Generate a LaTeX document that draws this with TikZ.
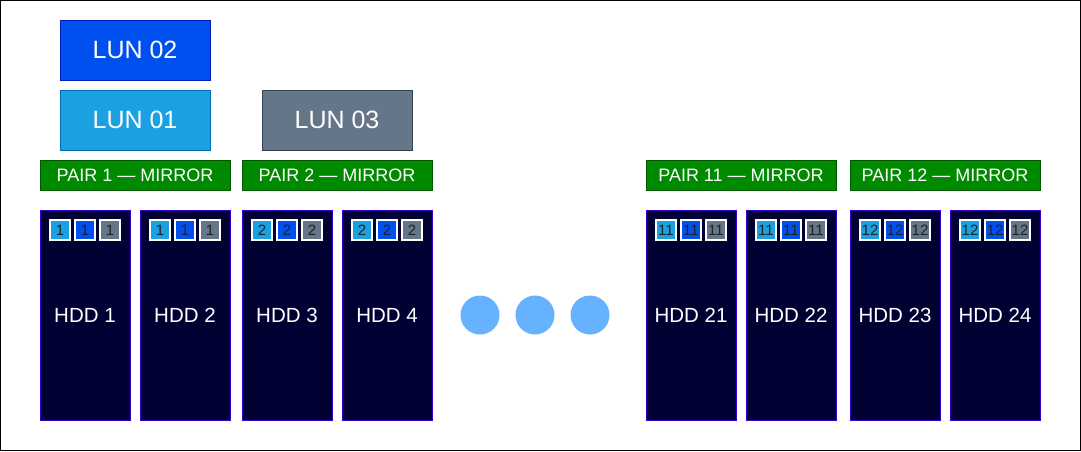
\documentclass[tikz,border=0pt]{standalone}
\usepackage{fontspec}
\setmainfont{Liberation Sans}
\definecolor{lunA}{HTML}{1BA1E2}
\definecolor{lunAb}{HTML}{006EAF}
\definecolor{lunB}{HTML}{0050EF}
\definecolor{lunBb}{HTML}{001DBC}
\definecolor{lunC}{HTML}{647687}
\definecolor{lunCb}{HTML}{314354}
\definecolor{pairg}{HTML}{008A00}
\definecolor{pairgb}{HTML}{005700}
\definecolor{hddfill}{HTML}{000033}
\definecolor{hddb}{HTML}{3700CC}
\definecolor{dotc}{HTML}{66B2FF}
\definecolor{sqtext}{HTML}{222222}
\tikzset{
  lunbox/.style={draw, line width=1pt, inner sep=0pt, minimum width=150pt, minimum height=60pt, text=white, font=\fontsize{25}{25}\selectfont},
  pairbox/.style={draw=pairgb, fill=pairg, line width=1pt, inner sep=0pt, minimum width=190pt, minimum height=30pt, text=white, font=\fontsize{18}{18}\selectfont},
  hddbox/.style={draw=hddb, fill=hddfill, line width=1pt, inner sep=0pt, minimum width=90pt, minimum height=210pt, text=white, font=\fontsize{20.5}{20.5}\selectfont},
  sqbox/.style={draw=white, line width=1.2pt, inner sep=0pt, minimum width=20pt, minimum height=20pt, text=sqtext, font=\fontsize{15}{15}\selectfont},
  dotnode/.style={circle, fill=dotc, inner sep=0pt, minimum size=39pt},
}
\begin{document}
\begin{tikzpicture}[x=1pt, y=-1pt]
\useasboundingbox (0,0) rectangle (1081,451);
\draw[line width=1pt] (0.5,0.5) rectangle (1080.5,450.5);
% LUNs
\node[lunbox, fill=lunB, draw=lunBb] (lun2) at (135,50) {LUN 02};
\node[lunbox, fill=lunA, draw=lunAb] (lun1) at (135,120) {LUN 01};
\node[lunbox, fill=lunC, draw=lunCb] (lun3) at (337,120) {LUN 03};
% Pairs
\node[pairbox] (pair1) at (135,175) {PAIR 1 — MIRROR};
\node[pairbox] (pair2) at (337,175) {PAIR 2 — MIRROR};
\node[pairbox] (pair11) at (741,175) {PAIR 11 — MIRROR};
\node[pairbox] (pair12) at (945,175) {PAIR 12 — MIRROR};
% HDDs
\foreach \x/\n/\p in {40/1/1, 140/2/1, 242/3/2, 342/4/2, 646/21/11, 746/22/11, 850/23/12, 950/24/12}{
  \node[hddbox] (hdd\n) at (\x+45,315) {HDD \n};
  \node[sqbox, fill=lunA] (sa\n) at (\x+20,230) {\p};
  \node[sqbox, fill=lunB] (sb\n) at (\x+45,230) {\p};
  \node[sqbox, fill=lunC] (sc\n) at (\x+70,230) {\p};
}
% dots
\node[dotnode] (d1) at (480,315) {};
\node[dotnode] (d2) at (535,315) {};
\node[dotnode] (d3) at (590,315) {};
\end{tikzpicture}
\end{document}
